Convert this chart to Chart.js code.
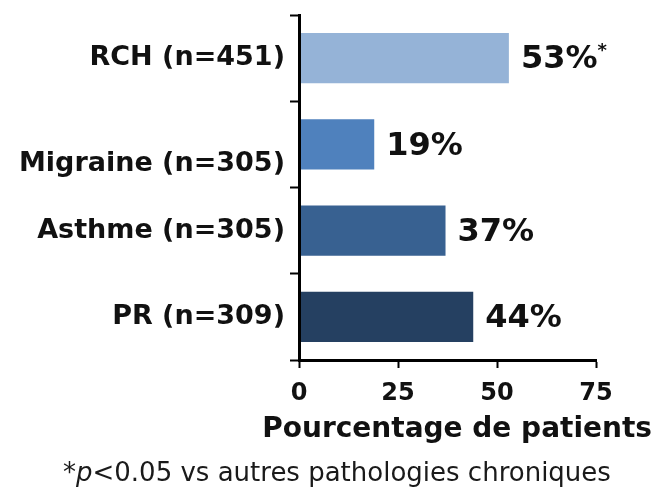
<!DOCTYPE html>
<html>
<head>
<meta charset="utf-8">
<script src="https://cdn.jsdelivr.net/npm/chart.js@4"></script>
<style>
  body { margin: 0; background: #fff; }
  #wrap { position: relative; width: 654px; height: 491px; }
  #xtitle {
    position: absolute; right: 2px; top: 411px;
    font: bold 28px 'DejaVu Sans', sans-serif; line-height: 34px;
    color: #111; white-space: nowrap;
  }
  #note {
    position: absolute; left: 63px; top: 457px;
    font: 26px 'DejaVu Sans', sans-serif; line-height: 30px;
    color: #1a1a1a; white-space: nowrap;
  }
</style>
</head>
<body>
<div id="wrap">
  <canvas id="chart"></canvas>
  <div id="xtitle">Pourcentage de patients</div>
  <div id="note">*<i>p</i>&lt;0.05 vs autres pathologies chroniques</div>
</div>
<script>
const categories = ['RCH (n=451)', 'Migraine (n=305)', 'Asthme (n=305)', 'PR (n=309)'];
const values = [53, 19, 37, 44];
const marks = ['*', '', '', ''];
const colors = ['#95b3d7', '#4f81bd', '#386191', '#254061'];
const xTicks = [0, 25, 50, 75];

Chart.defaults.font.family = "'DejaVu Sans', sans-serif";
Chart.defaults.color = '#111';

// percent labels to the right of each bar
const valueLabels = {
  id: 'valueLabels',
  afterDatasetsDraw(chart) {
    const ctx = chart.ctx;
    const meta = chart.getDatasetMeta(0);
    ctx.save();
    ctx.fillStyle = '#111';
    ctx.textBaseline = 'middle';
    ctx.textAlign = 'left';
    meta.data.forEach((bar, i) => {
      const txt = values[i] + '%';
      const x = bar.x + 12;
      const y = bar.y + 2;
      ctx.font = "bold 32px 'DejaVu Sans'";
      ctx.fillText(txt, x, y);
      if (marks[i]) {
        const w = ctx.measureText(txt).width;
        ctx.font = "bold 18px 'DejaVu Sans'";
        ctx.fillText(marks[i], x + w, y - 9);
      }
    });
    ctx.restore();
  }
};

new Chart(document.getElementById('chart'), {
  type: 'bar',
  data: {
    labels: categories,
    datasets: [{
      data: values,
      backgroundColor: colors,
      borderWidth: 0,
      barPercentage: 0.58,
      categoryPercentage: 1
    }]
  },
  options: {
    indexAxis: 'y',
    responsive: true,
    maintainAspectRatio: false,
    animation: false,
    layout: { padding: { left: 0, right: 58, top: 15, bottom: 43 } },
    plugins: { legend: { display: false }, tooltip: { enabled: false } },
    scales: {
      y: {
        afterFit: (s) => { s.width = 299; s.paddingTop = 0; s.paddingBottom = 0; },
        grid: { drawOnChartArea: false, tickLength: 9, tickColor: '#000', tickWidth: 2, offset: true },
        border: { color: '#000', width: 3, z: 1 },
        ticks: {
          padding: 5,
          color: '#111',
          font: (c) => ({ size: 27, weight: 'bold', lineHeight: c.index === 1 ? '40px' : 1.2 }),
          callback: (v, i) => i === 1 ? ['', categories[i]] : categories[i]
        }
      },
      x: {
        min: 0,
        max: 75,
        afterFit: (s) => { s.height = 88; },
        afterBuildTicks: (s) => { s.ticks = xTicks.map(v => ({ value: v })); },
        grid: { drawOnChartArea: false, tickLength: 8, tickColor: '#000', tickWidth: 2 },
        border: { color: '#000', width: 3, z: 1 },
        ticks: { padding: 11, color: '#111', font: { size: 24, weight: 'bold' } }
      }
    }
  },
  plugins: [valueLabels]
});
</script>
</body>
</html>
